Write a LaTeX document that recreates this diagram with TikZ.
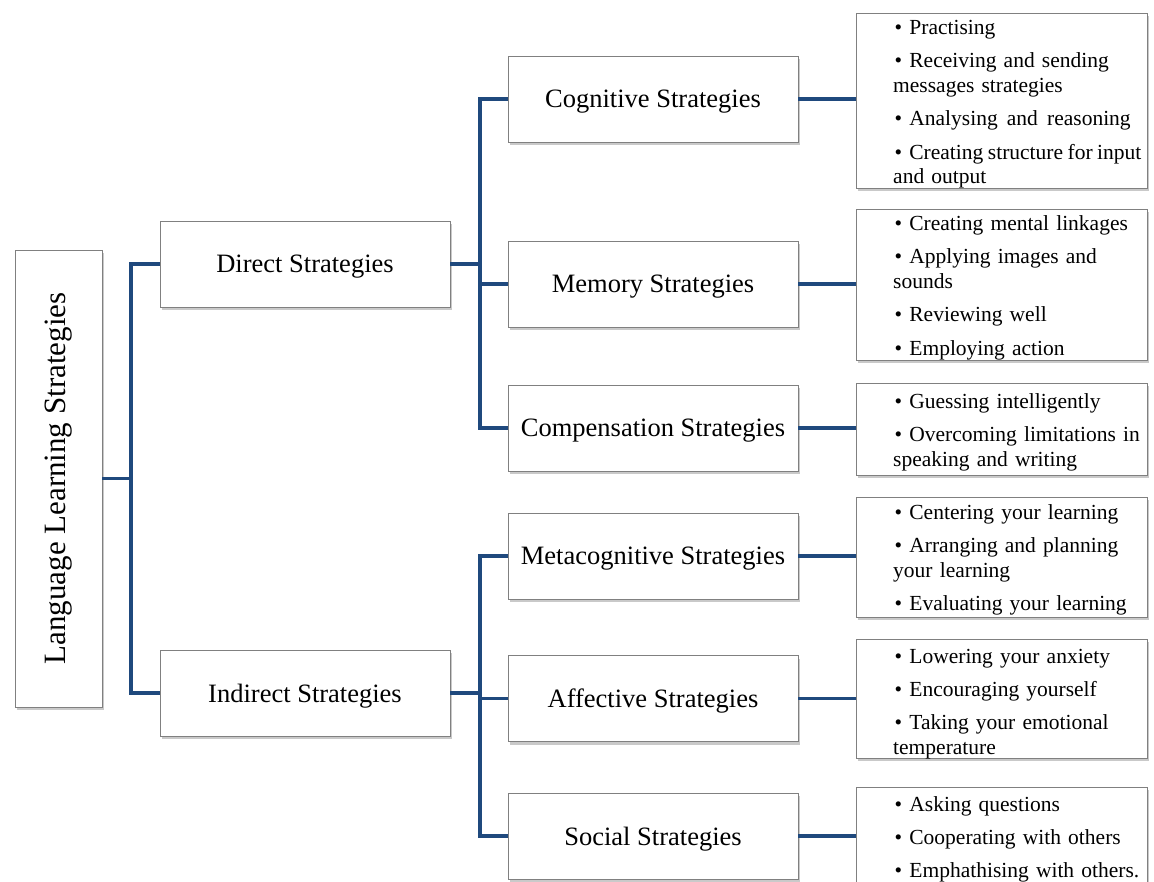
\documentclass[tikz,border=0pt]{standalone}
\usepackage{fontspec}
\setmainfont{Liberation Serif}
\usetikzlibrary{shadows}
\definecolor{connblue}{RGB}{31,73,125}
\definecolor{boxgray}{RGB}{128,128,128}
\tikzset{
  box/.style={draw=boxgray, line width=0.9pt, fill=white, inner sep=0pt,
    drop shadow={shadow xshift=2pt, shadow yshift=-3pt, opacity=0.35, fill=black!60}},
  lvlbox/.style={box, minimum width=290pt, minimum height=86pt, text depth=0pt,
    font=\fontsize{26.5}{30}\selectfont},
  listbox/.style={box, minimum width=291pt},
  listtext/.style={anchor=base west, inner sep=0pt, text width=300pt, align=left,
    font=\fontsize{21.5}{24.7}\selectfont},
  conn/.style={draw=connblue, line width=3.9pt, line join=miter}
}
\newcommand{\itm}{\hspace{1.5pt}\textbullet\ }
\begin{document}
\begin{tikzpicture}[x=1pt,y=-1pt]
\useasboundingbox (0,0) rectangle (1154,881);
\fill[white] (0,0) rectangle (1154,881);

% root and level 1
\node[box, minimum width=87pt, minimum height=457pt] (root) at (58.5,478.5) {};
\node[rotate=90, font=\fontsize{31}{36}\selectfont] (roottext) at (58.5,478.5) {Language Learning Strategies};
\node[lvlbox] (direct) at (305,264) {Direct Strategies};
\node[lvlbox] (indirect) at (305,693) {Indirect Strategies};

% level 2
\node[lvlbox] (cog) at (653,99) {Cognitive Strategies};
\node[lvlbox] (mem) at (653,284) {Memory Strategies};
\node[lvlbox] (comp) at (653,428) {Compensation Strategies};
\node[lvlbox] (meta) at (653,556) {Metacognitive Strategies};
\node[lvlbox] (aff) at (653,698.5) {Affective Strategies};
\node[lvlbox] (soc) at (653,836) {Social Strategies};

% list boxes
\node[listbox, minimum height=175pt] (l1) at (1001.5,100.5) {};
\node[listbox, minimum height=151pt] (l2) at (1001.5,284.5) {};
\node[listbox, minimum height=92pt] (l3) at (1001.5,429) {};
\node[listbox, minimum height=120pt] (l4) at (1001.5,557) {};
\node[listbox, minimum height=119pt] (l5) at (1001.5,698.5) {};
\node[listbox, minimum height=103pt] (l6) at (1001.5,838.5) {};

\node[listtext] (t1) at (893,34.5) {\itm Practising\\[8.6pt]
\itm Receiving and sending\\ messages strategies\\[8.6pt]
\itm Analysing\ \hspace{2pt}and\ \hspace{2pt}reasoning\\[8.6pt]
\itm Creating\hspace{4.5pt}structure\hspace{4.5pt}for\hspace{4.5pt}input\\ and output};
\node[listtext] (t2) at (893,230.5) {\itm Creating mental linkages\\[8.6pt]
\itm Applying images and\\ sounds\\[8.6pt]
\itm Reviewing well\\[8.6pt]
\itm Employing action};
\node[listtext] (t3) at (893,408.5) {\itm Guessing intelligently\\[8.6pt]
\itm Overcoming limitations in\\ speaking and writing};
\node[listtext] (t4) at (893,519.5) {\itm Centering your learning\\[8.6pt]
\itm Arranging and planning\\ your learning\\[8.6pt]
\itm Evaluating your learning};
\node[listtext] (t5) at (893,663) {\itm Lowering your anxiety\\[8.6pt]
\itm Encouraging yourself\\[8.6pt]
\itm Taking your emotional\\ temperature};
\node[listtext] (t6) at (893,811) {\itm Asking questions\\[8.6pt]
\itm Cooperating with others\\[8.6pt]
\itm Emphathising with others.};

% junctions
\coordinate (j1) at (131,478.5);
\coordinate (j2) at (480,264);
\coordinate (j3) at (480,693);

% connectors
\draw[conn] (root.east) -- (j1);
\draw[conn] (direct.west) -| (j1) |- (indirect.west);
\draw[conn] (direct.east) -- (j2);
\draw[conn] (cog.west) -| (j2) |- (comp.west);
\draw[conn] (mem.west) -- (mem.west -| j2);
\draw[conn] (indirect.east) -- (j3);
\draw[conn] (meta.west) -| (j3) |- (soc.west);
\draw[conn] (aff.west) -- (aff.west -| j3);
\draw[conn] (cog.east) -- (cog.east -| l1.west);
\draw[conn] (mem.east) -- (mem.east -| l2.west);
\draw[conn] (comp.east) -- (comp.east -| l3.west);
\draw[conn] (meta.east) -- (meta.east -| l4.west);
\draw[conn] (aff.east) -- (aff.east -| l5.west);
\draw[conn] (soc.east) -- (soc.east -| l6.west);
\end{tikzpicture}
\end{document}
